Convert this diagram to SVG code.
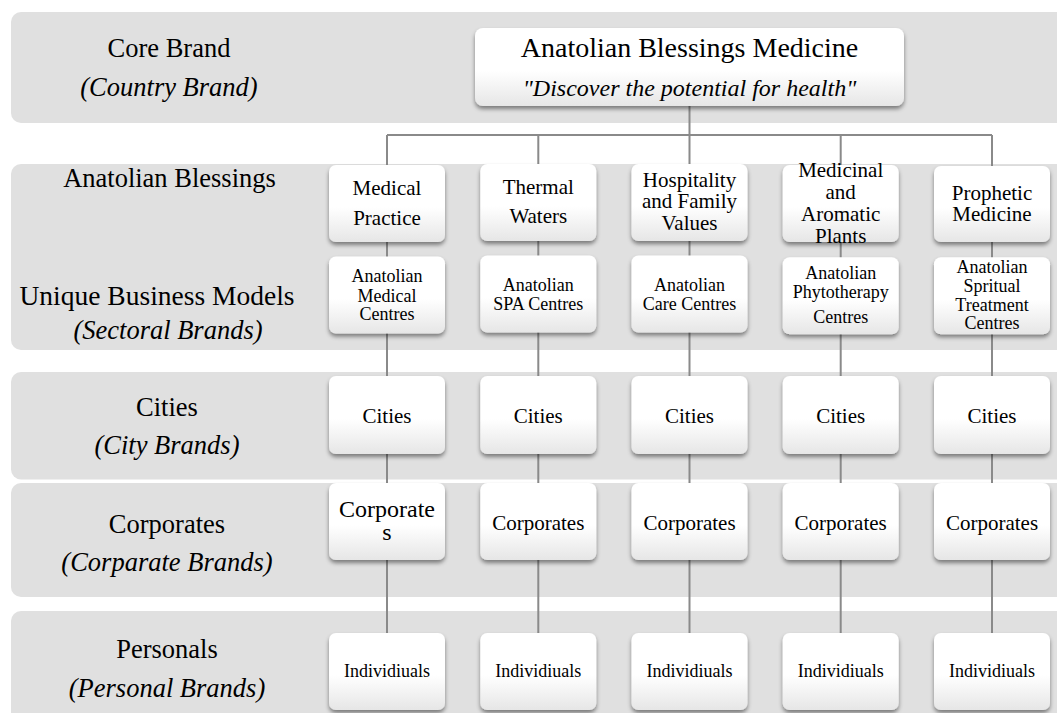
<svg xmlns="http://www.w3.org/2000/svg" width="1057" height="713" viewBox="0 0 1057 713">
<defs>
<linearGradient id="ng" x1="0" y1="0" x2="0" y2="1">
<stop offset="0" stop-color="#ffffff"/>
<stop offset="0.55" stop-color="#ffffff"/>
<stop offset="1" stop-color="#e6e6e6"/>
</linearGradient>
<filter id="sh" x="-10%" y="-10%" width="120%" height="130%">
<feDropShadow dx="0" dy="3" stdDeviation="2" flood-color="#000" flood-opacity="0.45"/>
</filter>
</defs>
<style>
.band{fill:#e0e0e0}
.box{fill:url(#ng);filter:url(#sh)}
text{font-family:'Liberation Serif',serif;fill:#000;text-anchor:middle}
.i{font-style:italic}
.conn{stroke:#8a8a8a;stroke-width:2;fill:none}
.f21{font-size:21px}
.f18{font-size:18px}
.lab{font-size:26.5px}
</style>
<rect width="1057" height="713" fill="#ffffff"/>
<g id="bands">
<rect class="band" x="11" y="12" width="1070" height="111" rx="10"/>
<rect class="band" x="11" y="164" width="1070" height="186" rx="10"/>
<rect class="band" x="11" y="372" width="1070" height="107.5" rx="10"/>
<rect class="band" x="11" y="483" width="1070" height="114" rx="10"/>
<rect class="band" x="11" y="611" width="1070" height="120" rx="10"/>
</g>
<g id="labels" font-family="Liberation Serif, serif">
<text class="lab" x="169" y="56.5">Core Brand</text>
<text class="lab i" x="169" y="95.7">(Country Brand)</text>
<text class="lab" x="169.5" y="187">Anatolian Blessings</text>
<text x="157" y="305.4" style="font-size:27.5px">Unique Business Models</text>
<text class="lab i" x="168" y="338.5">(Sectoral Brands)</text>
<text class="lab" x="167" y="415.8">Cities</text>
<text class="lab i" x="167" y="454">(City Brands)</text>
<text class="lab" x="167" y="533">Corporates</text>
<text class="lab i" x="167" y="571.3">(Corparate Brands)</text>
<text class="lab" x="167" y="657.5">Personals</text>
<text class="lab i" x="167" y="697.4">(Personal Brands)</text>
</g>
<g id="connectors">
<path class="conn" d="M689.5 106V135M387 135H992"/>
<path class="conn" d="M387 135V633M538.3 135V633M689.5 135V633M840.7 135V633M992 135V633"/>
</g>
<g id="core">
<rect class="box" x="475" y="28" width="429" height="78" rx="8"/>
<text x="689.5" y="57" style="font-size:28px">Anatolian Blessings Medicine</text>
<text class="i" x="689.5" y="96" style="font-size:24px">"Discover the potential for health"</text>
</g>
<g id="n-medical-practice">
<rect class="box" x="329" y="165" width="116" height="77" rx="7"/>
<text class="f21" x="387" y="195">Medical</text>
<text class="f21" x="387" y="225">Practice</text>
</g>
<g id="n-thermal-waters">
<rect class="box" x="480.3" y="164" width="116" height="77" rx="7"/>
<text class="f21" x="538.3" y="194">Thermal</text>
<text class="f21" x="538.3" y="223.3">Waters</text>
</g>
<g id="n-hospitality">
<rect class="box" x="631.5" y="164" width="116" height="77" rx="7"/>
<text class="f21" x="689.5" y="186.5">Hospitality</text>
<text class="f21" x="689.5" y="208.3">and Family</text>
<text class="f21" x="689.5" y="230">Values</text>
</g>
<g id="n-medicinal">
<rect class="box" x="782.7" y="165" width="116" height="77" rx="7"/>
<text class="f21" x="840.7" y="176.7">Medicinal</text>
<text class="f21" x="840.7" y="199">and</text>
<text class="f21" x="840.7" y="220.7">Aromatic</text>
<text class="f21" x="840.7" y="242.7">Plants</text>
</g>
<g id="n-prophetic">
<rect class="box" x="934" y="166" width="116" height="76" rx="7"/>
<text class="f21" x="992" y="200">Prophetic</text>
<text class="f21" x="992" y="221">Medicine</text>
</g>
<g id="n-amc">
<rect class="box" x="329" y="256.5" width="116" height="77" rx="7"/>
<text class="f18" x="387" y="282">Anatolian</text>
<text class="f18" x="387" y="301.5">Medical</text>
<text class="f18" x="387" y="320">Centres</text>
</g>
<g id="n-spa">
<rect class="box" x="480.3" y="255.5" width="116" height="77" rx="7"/>
<text class="f18" x="538.3" y="291">Anatolian</text>
<text class="f18" x="538.3" y="310">SPA Centres</text>
</g>
<g id="n-care">
<rect class="box" x="631.5" y="255.5" width="116" height="77" rx="7"/>
<text class="f18" x="689.5" y="291">Anatolian</text>
<text class="f18" x="689.5" y="310">Care Centres</text>
</g>
<g id="n-phyto">
<rect class="box" x="782.7" y="257.3" width="116" height="77" rx="7"/>
<text class="f18" x="840.7" y="279">Anatolian</text>
<text class="f18" x="840.7" y="298.3">Phytotherapy</text>
<text class="f18" x="840.7" y="323.3">Centres</text>
</g>
<g id="n-spiritual">
<rect class="box" x="934" y="257.3" width="116" height="77" rx="7"/>
<text class="f18" x="992" y="272.7">Anatolian</text>
<text class="f18" x="992" y="291.7">Spritual</text>
<text class="f18" x="992" y="310.7">Treatment</text>
<text class="f18" x="992" y="329.3">Centres</text>
</g>
<g id="n-cities-1"><rect class="box" x="329" y="376" width="116" height="78" rx="7"/><text class="f21" x="387" y="422.5">Cities</text></g>
<g id="n-cities-2"><rect class="box" x="480.3" y="376" width="116" height="78" rx="7"/><text class="f21" x="538.3" y="422.5">Cities</text></g>
<g id="n-cities-3"><rect class="box" x="631.5" y="376" width="116" height="78" rx="7"/><text class="f21" x="689.5" y="422.5">Cities</text></g>
<g id="n-cities-4"><rect class="box" x="782.7" y="376" width="116" height="78" rx="7"/><text class="f21" x="840.7" y="422.5">Cities</text></g>
<g id="n-cities-5"><rect class="box" x="934" y="376" width="116" height="78" rx="7"/><text class="f21" x="992" y="422.5">Cities</text></g>
<g id="n-corp-1"><rect class="box" x="329" y="483" width="116" height="77" rx="7"/><text x="387" y="516.7" style="font-size:24px">Corporate</text><text x="387" y="540" style="font-size:24px">s</text></g>
<g id="n-corp-2"><rect class="box" x="480.3" y="483" width="116" height="77" rx="7"/><text class="f21" x="538.3" y="530">Corporates</text></g>
<g id="n-corp-3"><rect class="box" x="631.5" y="483" width="116" height="77" rx="7"/><text class="f21" x="689.5" y="530">Corporates</text></g>
<g id="n-corp-4"><rect class="box" x="782.7" y="483" width="116" height="77" rx="7"/><text class="f21" x="840.7" y="530">Corporates</text></g>
<g id="n-corp-5"><rect class="box" x="934" y="483" width="116" height="77" rx="7"/><text class="f21" x="992" y="530">Corporates</text></g>
<g id="n-ind-1"><rect class="box" x="329" y="633" width="116" height="77" rx="7"/><text class="f18" x="387" y="677.3">Individiuals</text></g>
<g id="n-ind-2"><rect class="box" x="480.3" y="633" width="116" height="77" rx="7"/><text class="f18" x="538.3" y="677.3">Individiuals</text></g>
<g id="n-ind-3"><rect class="box" x="631.5" y="633" width="116" height="77" rx="7"/><text class="f18" x="689.5" y="677.3">Individiuals</text></g>
<g id="n-ind-4"><rect class="box" x="782.7" y="633" width="116" height="77" rx="7"/><text class="f18" x="840.7" y="677.3">Individiuals</text></g>
<g id="n-ind-5"><rect class="box" x="934" y="633" width="116" height="77" rx="7"/><text class="f18" x="992" y="677.3">Individiuals</text></g>
</svg>
